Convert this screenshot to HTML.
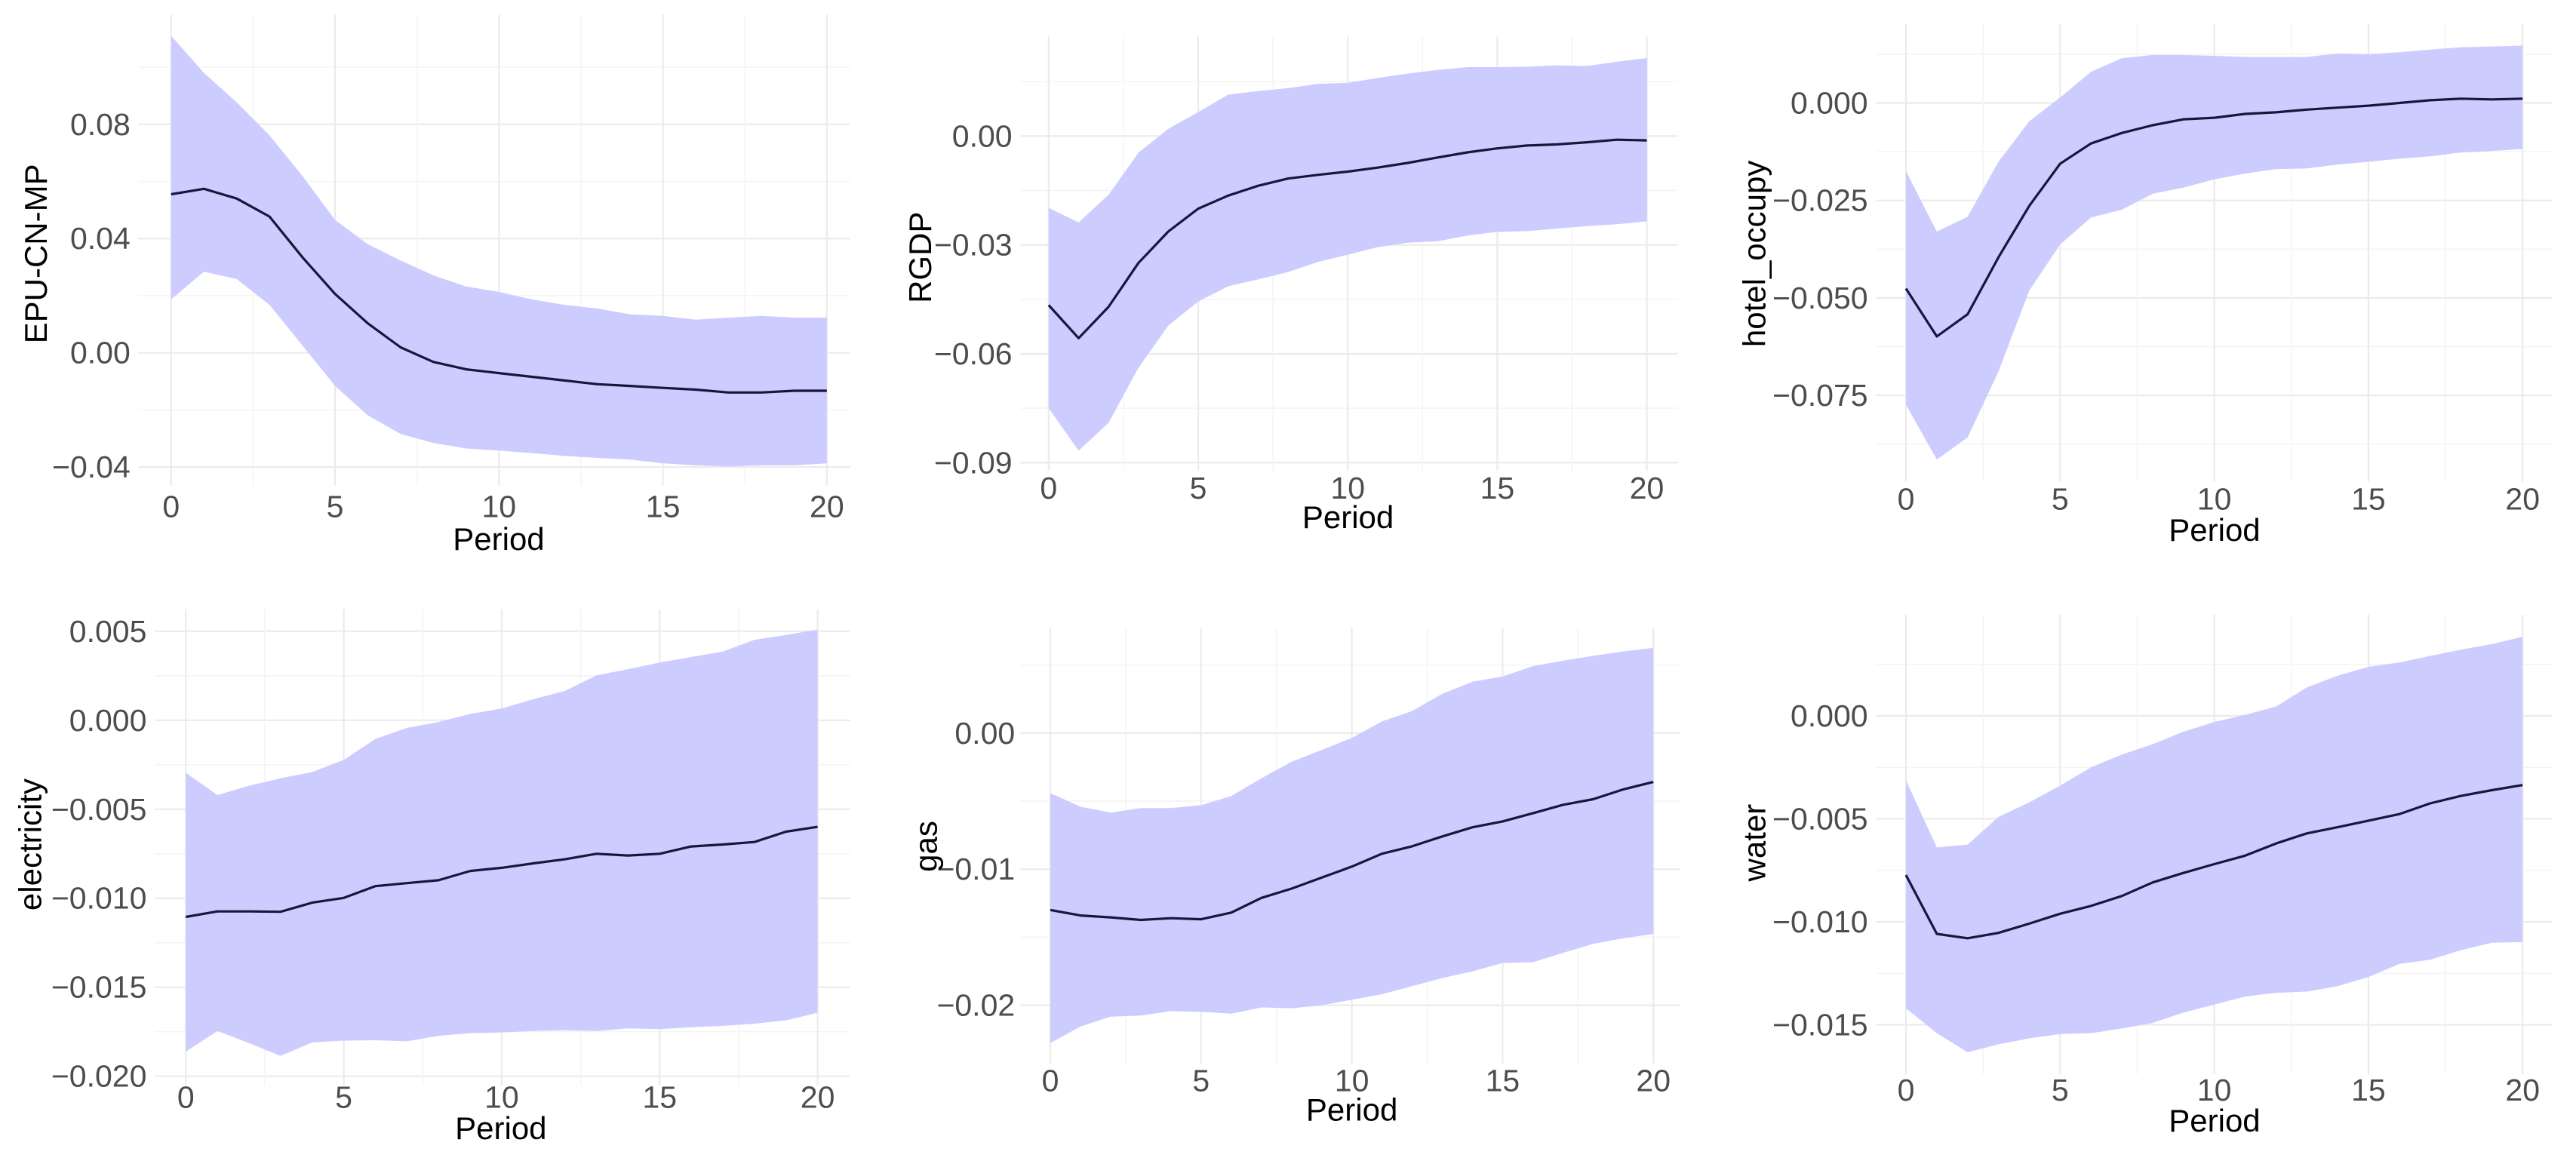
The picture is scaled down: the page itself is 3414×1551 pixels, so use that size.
<!DOCTYPE html>
<html><head><meta charset="utf-8"><style>
html,body{margin:0;padding:0;background:#fff;}
svg{display:block;}
text{font-family:"Liberation Sans",sans-serif;}
</style></head><body>
<svg id="fig" width="3414" height="1551" xmlns="http://www.w3.org/2000/svg"></svg>
<script>
// ---- data (21 periods, 0..20) ----
const periods = [0,1,2,3,4,5,6,7,8,9,10,11,12,13,14,15,16,17,18,19,20];
const xTicks = [0,5,10,15,20];

const epuMid = [0.0555,0.0574,0.054,0.0477,0.0335,0.0206,0.0103,0.0019,-0.0032,-0.0058,-0.0071,-0.0084,-0.0097,-0.011,-0.0116,-0.0123,-0.0129,-0.0139,-0.0139,-0.0133,-0.0133];
const epuUp = [0.111,0.098,0.0877,0.0761,0.062,0.0465,0.038,0.0323,0.0271,0.0232,0.0213,0.0187,0.0168,0.0155,0.0135,0.0129,0.0116,0.0123,0.0129,0.0123,0.0123];
const epuLo = [0.0187,0.0284,0.0258,0.0168,0.0026,-0.0116,-0.0219,-0.0284,-0.0316,-0.0335,-0.0342,-0.0351,-0.0361,-0.0368,-0.0374,-0.0387,-0.0394,-0.0398,-0.0394,-0.0394,-0.0387];
const epuTicks = [0.08,0.04,0.00,-0.04];
const epuTickLabels = ["0.08","0.04","0.00","\u22120.04"];

const rgdpMid = [-0.0466,-0.0557,-0.0471,-0.035,-0.0263,-0.020,-0.0164,-0.0137,-0.0117,-0.0107,-0.0098,-0.0087,-0.0074,-0.0059,-0.0045,-0.0034,-0.0026,-0.0023,-0.0017,-0.001,-0.0012];
const rgdpUp = [-0.0198,-0.0238,-0.0162,-0.0046,0.002,0.0066,0.0114,0.0124,0.0132,0.0144,0.0147,0.016,0.0172,0.0182,0.019,0.019,0.0191,0.0195,0.0193,0.0205,0.0215];
const rgdpLo = [-0.075,-0.0867,-0.0791,-0.0639,-0.0522,-0.0456,-0.0414,-0.0395,-0.0375,-0.0347,-0.0327,-0.0306,-0.0294,-0.029,-0.0274,-0.0264,-0.0262,-0.0255,-0.0248,-0.0243,-0.0235];
const rgdpTicks = [0.00,-0.03,-0.06,-0.09];
const rgdpTickLabels = ["0.00","\u22120.03","\u22120.06","\u22120.09"];

const hotelMid = [-0.0476,-0.0599,-0.0542,-0.0396,-0.0264,-0.0156,-0.0104,-0.0077,-0.0057,-0.0042,-0.0038,-0.0028,-0.0024,-0.0017,-0.0012,-0.0007,0,0.0007,0.0011,0.0009,0.0011];
const hotelUp = [-0.0175,-0.033,-0.0292,-0.0151,-0.0047,0.0014,0.008,0.0115,0.0123,0.0123,0.0121,0.0118,0.0118,0.0118,0.0127,0.0125,0.013,0.0137,0.0143,0.0145,0.0147];
const hotelLo = [-0.0774,-0.0915,-0.0858,-0.0689,-0.0481,-0.0363,-0.0294,-0.0274,-0.0233,-0.0217,-0.0196,-0.0181,-0.017,-0.0168,-0.0158,-0.0151,-0.0143,-0.0137,-0.0127,-0.0123,-0.0118];
const hotelTicks = [0.000,-0.025,-0.050,-0.075];
const hotelTickLabels = ["0.000","\u22120.025","\u22120.050","\u22120.075"];

const elecMid = [-0.01105,-0.01074,-0.01074,-0.01076,-0.01025,-0.00998,-0.00932,-0.00915,-0.00899,-0.00847,-0.00829,-0.00804,-0.00781,-0.0075,-0.0076,-0.0075,-0.00709,-0.00698,-0.00684,-0.00626,-0.00599];
const elecUp = [-0.00295,-0.0042,-0.00368,-0.00326,-0.00291,-0.00223,-0.00105,-0.00043,-0.0001,0.00035,0.00066,0.00118,0.00165,0.00252,0.00287,0.00324,0.00355,0.00386,0.00452,0.00479,0.0051];
const elecLo = [-0.01862,-0.01746,-0.01814,-0.01886,-0.0181,-0.018,-0.01798,-0.01804,-0.01773,-0.01758,-0.01754,-0.01746,-0.01742,-0.01746,-0.01731,-0.01735,-0.01725,-0.01717,-0.01705,-0.01686,-0.01643];
const elecTicks = [0.005,0.000,-0.005,-0.010,-0.015,-0.020];
const elecTickLabels = ["0.005","0.000","\u22120.005","\u22120.010","\u22120.015","\u22120.020"];

const gasMid = [-0.013,-0.0134,-0.01354,-0.01373,-0.0136,-0.01368,-0.01319,-0.01211,-0.01143,-0.01062,-0.00981,-0.00886,-0.00832,-0.00759,-0.00692,-0.00649,-0.00589,-0.00527,-0.00486,-0.00414,-0.00359];
const gasUp = [-0.00441,-0.00541,-0.00584,-0.00551,-0.00551,-0.0053,-0.00462,-0.00332,-0.00211,-0.00124,-0.00035,0.00086,0.00162,0.00289,0.00378,0.00416,0.00492,0.00532,0.00568,0.006,0.00627];
const gasLo = [-0.02278,-0.02157,-0.02084,-0.02076,-0.02043,-0.02049,-0.02062,-0.02016,-0.02022,-0.02,-0.01959,-0.01919,-0.01859,-0.018,-0.01751,-0.01689,-0.01684,-0.01616,-0.01549,-0.01508,-0.01476];
const gasTicks = [0.00,-0.01,-0.02];
const gasTickLabels = ["0.00","\u22120.01","\u22120.02"];

const waterMid = [-0.00773,-0.01059,-0.0108,-0.01054,-0.01009,-0.00961,-0.00923,-0.00875,-0.00809,-0.00763,-0.0072,-0.00679,-0.0062,-0.00571,-0.00541,-0.00509,-0.00477,-0.00425,-0.00389,-0.00361,-0.00336];
const waterUp = [-0.00313,-0.00639,-0.00625,-0.00491,-0.0042,-0.00339,-0.0025,-0.00188,-0.00138,-0.00077,-0.0003,0.00005,0.00045,0.00138,0.00195,0.00238,0.00259,0.00291,0.00321,0.00348,0.00384];
const waterLo = [-0.0142,-0.01541,-0.01634,-0.01595,-0.01566,-0.01545,-0.01541,-0.01518,-0.01491,-0.01441,-0.01402,-0.01363,-0.01345,-0.01339,-0.01313,-0.01268,-0.01205,-0.01184,-0.01138,-0.01102,-0.01098];
const waterTicks = [0.000,-0.005,-0.010,-0.015];
const waterTickLabels = ["0.000","\u22120.005","\u22120.010","\u22120.015"];

// ---- layout (crop-space geometry per panel) ----
const SX = 0.72, SY = 0.4875;
const panels = [
 {key:'epu', title:'EPU-CN-MP', mid:epuMid, up:epuUp, lo:epuLo, ticks:epuTicks, labels:epuTickLabels,
  ox:0, oy:0, x0:315, x20:1522, vA:0.08, zA:338, vB:-0.04, zB:1270, gx0:255, gx1:1565, gy0:40, gy1:1320, tX:65, tY:690, tickR:240, xlabY:1375, perX:918, perY:1465},
 {key:'rgdp', title:'RGDP', mid:rgdpMid, up:rgdpUp, lo:rgdpLo, ticks:rgdpTicks, labels:rgdpTickLabels,
  ox:1140, oy:0, x0:347, x20:1448, vA:0.00, zA:370, vB:-0.09, zB:1258, gx0:295, gx1:1505, gy0:100, gy1:1280, tX:110, tY:700, tickR:280, xlabY:1325, perX:898, perY:1405},
 {key:'hotel', title:'hotel_occupy', mid:hotelMid, up:hotelUp, lo:hotelLo, ticks:hotelTicks, labels:hotelTickLabels,
  ox:2274, oy:0, x0:350, x20:1485, vA:0.000, zA:280, vB:-0.075, zB:1075, gx0:295, gx1:1540, gy0:65, gy1:1310, tX:70, tY:690, tickR:280, xlabY:1355, perX:918, perY:1440},
 {key:'elec', title:'electricity', mid:elecMid, up:elecUp, lo:elecLo, ticks:elecTicks, labels:elecTickLabels,
  ox:0, oy:771, x0:342, x20:1505, vA:0.005, zA:135, vB:-0.020, zB:1345, gx0:285, gx1:1565, gy0:75, gy1:1370, tX:55, tY:715, tickR:270, xlabY:1400, perX:922, perY:1485},
 {key:'gas', title:'gas', mid:gasMid, up:gasUp, lo:gasLo, ticks:gasTicks, labels:gasTickLabels,
  ox:1140, oy:771, x0:350, x20:1460, vA:0.00, zA:412, vB:-0.02, zB:1152, gx0:295, gx1:1510, gy0:125, gy1:1310, tX:120, tY:720, tickR:285, xlabY:1355, perX:905, perY:1435},
 {key:'water', title:'water', mid:waterMid, up:waterUp, lo:waterLo, ticks:waterTicks, labels:waterTickLabels,
  ox:2274, oy:771, x0:350, x20:1485, vA:0.000, zA:365, vB:-0.015, zB:1205, gx0:295, gx1:1540, gy0:90, gy1:1340, tX:70, tY:710, tickR:280, xlabY:1380, perX:918, perY:1465}
];

const NS = 'http://www.w3.org/2000/svg';
const svg = document.getElementById('fig');
function mk(tag, attrs, parent){
  const e = document.createElementNS(NS, tag);
  for (const k in attrs) e.setAttribute(k, attrs[k]);
  parent.appendChild(e);
  return e;
}

panels.forEach(p => {
  const g = mk('g', {}, svg);
  
  
  const xs = x => p.ox + SX * (p.x0 + (x / 20) * (p.x20 - p.x0));
  const ys = v => p.oy + SY * (p.zA + (v - p.vA) / (p.vB - p.vA) * (p.zB - p.zA));
  const left = p.ox + SX * p.gx0, right = p.ox + SX * p.gx1;
  const top = p.oy + SY * p.gy0, bot = p.oy + SY * p.gy1;

  // grid
  const grid = mk('g', {}, g);
  
  
  const step = p.ticks[0] - p.ticks[1];
  for (let i = -1; i < p.ticks.length; i++) {
    const v = (i < 0 ? p.ticks[0] + step / 2 : p.ticks[i] - step / 2);
    const y = ys(v);
    if (y > top && y < bot) mk('line', {x1:left, x2:right, y1:y, y2:y, stroke:'#f4f4f4', 'stroke-width':1.5}, grid);
  }
  p.ticks.forEach(v => { const y = ys(v); mk('line', {x1:left, x2:right, y1:y, y2:y, stroke:'#ebebeb', 'stroke-width':2.2}, grid); });
  for (let x = 2.5; x < 20; x += 5) { const X = xs(x); mk('line', {x1:X, x2:X, y1:top, y2:bot, stroke:'#f4f4f4', 'stroke-width':1.5}, grid); }
  xTicks.forEach(x => { const X = xs(x); mk('line', {x1:X, x2:X, y1:top, y2:bot, stroke:'#ebebeb', 'stroke-width':2.2}, grid); });

  // ribbon
  let d = '';
  periods.forEach((x, i) => { d += (i ? 'L' : 'M') + xs(x).toFixed(1) + ',' + ys(p.up[i]).toFixed(1); });
  for (let i = periods.length - 1; i >= 0; i--) d += 'L' + xs(periods[i]).toFixed(1) + ',' + ys(p.lo[i]).toFixed(1);
  const rib = mk('path', {d: d + 'Z', fill:'#ccccff', stroke:'none'}, g);
  
  

  // line
  let dl = '';
  periods.forEach((x, i) => { dl += (i ? 'L' : 'M') + xs(x).toFixed(1) + ',' + ys(p.mid[i]).toFixed(1); });
  const ln = mk('path', {d: dl, fill:'none', stroke:'#17173a', 'stroke-width':3.2, 'stroke-linejoin':'round'}, g);
  
  

  // y tick labels
  p.ticks.forEach((v, i) => {
    const t = mk('text', {x: p.ox + SX * p.tickR, y: ys(v) + 14, 'text-anchor':'end', 'font-size':41, fill:'#4d4d4d'}, g);
    t.textContent = p.labels[i];
    
    
  });
  // x tick labels
  xTicks.forEach(x => {
    const t = mk('text', {x: xs(x), y: p.oy + SY * p.xlabY + 15, 'text-anchor':'middle', 'font-size':41, fill:'#4d4d4d'}, g);
    t.textContent = String(x);
    
    
  });
  // x title
  const xt = mk('text', {x: p.ox + SX * p.perX, y: p.oy + SY * p.perY + 15, 'text-anchor':'middle', 'font-size':42, fill:'#000'}, g);
  xt.textContent = 'Period';
  
  
  // y title
  const tx = p.ox + SX * p.tX, ty = p.oy + SY * p.tY;
  const yt = mk('text', {x: 0, y: 0, transform: 'translate(' + (tx + 15) + ',' + ty + ') rotate(-90)', 'text-anchor':'middle', 'font-size':42, fill:'#000'}, g);
  yt.textContent = p.title;
  
  
});
</script>
</body></html>
